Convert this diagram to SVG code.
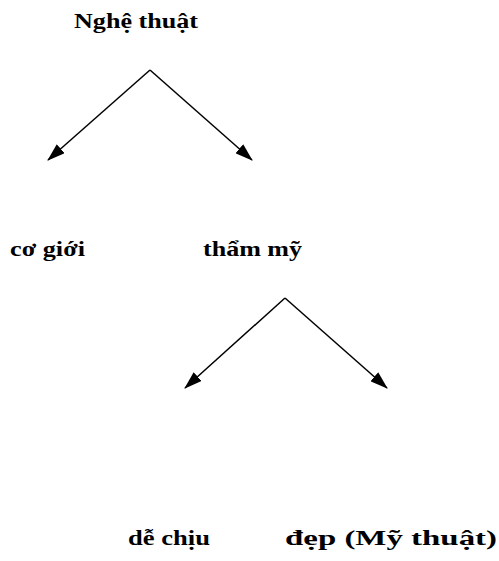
<svg xmlns="http://www.w3.org/2000/svg" width="499" height="561" viewBox="0 0 499 561">
<style>
text{font-family:"Liberation Serif","DejaVu Serif",serif;font-weight:bold;font-size:22px;fill:#000}
.c{stroke:#000;stroke-width:1.5;fill:none}
</style>
<defs>
<marker id="ah" viewBox="0 0 18 12" refX="17" refY="6" markerWidth="18" markerHeight="12" markerUnits="userSpaceOnUse" orient="auto">
<path d="M0,0 L18,6 L0,12 z" fill="#000"/>
</marker>
</defs>
<rect width="499" height="561" fill="#fff"/>
<g id="connectors">
<line class="c" x1="150" y1="70" x2="48" y2="160" marker-end="url(#ah)"/>
<line class="c" x1="150" y1="70" x2="252" y2="160" marker-end="url(#ah)"/>
<line class="c" x1="285" y1="298" x2="185" y2="388" marker-end="url(#ah)"/>
<line class="c" x1="285" y1="298" x2="387" y2="388" marker-end="url(#ah)"/>
</g>
<g id="n-nghethuat"><text x="74" y="28" textLength="124" lengthAdjust="spacingAndGlyphs">Nghệ thuật</text></g>
<g id="n-cogioi"><text x="10" y="256" textLength="75" lengthAdjust="spacingAndGlyphs">cơ giới</text></g>
<g id="n-thammy"><text x="203" y="256" textLength="99" lengthAdjust="spacingAndGlyphs">thẩm mỹ</text></g>
<g id="n-dechiu"><text x="128" y="545" textLength="82" lengthAdjust="spacingAndGlyphs">dễ chịu</text></g>
<g id="n-dep"><text x="285" y="545" textLength="212" lengthAdjust="spacingAndGlyphs">đẹp (Mỹ thuật)</text></g>
</svg>
